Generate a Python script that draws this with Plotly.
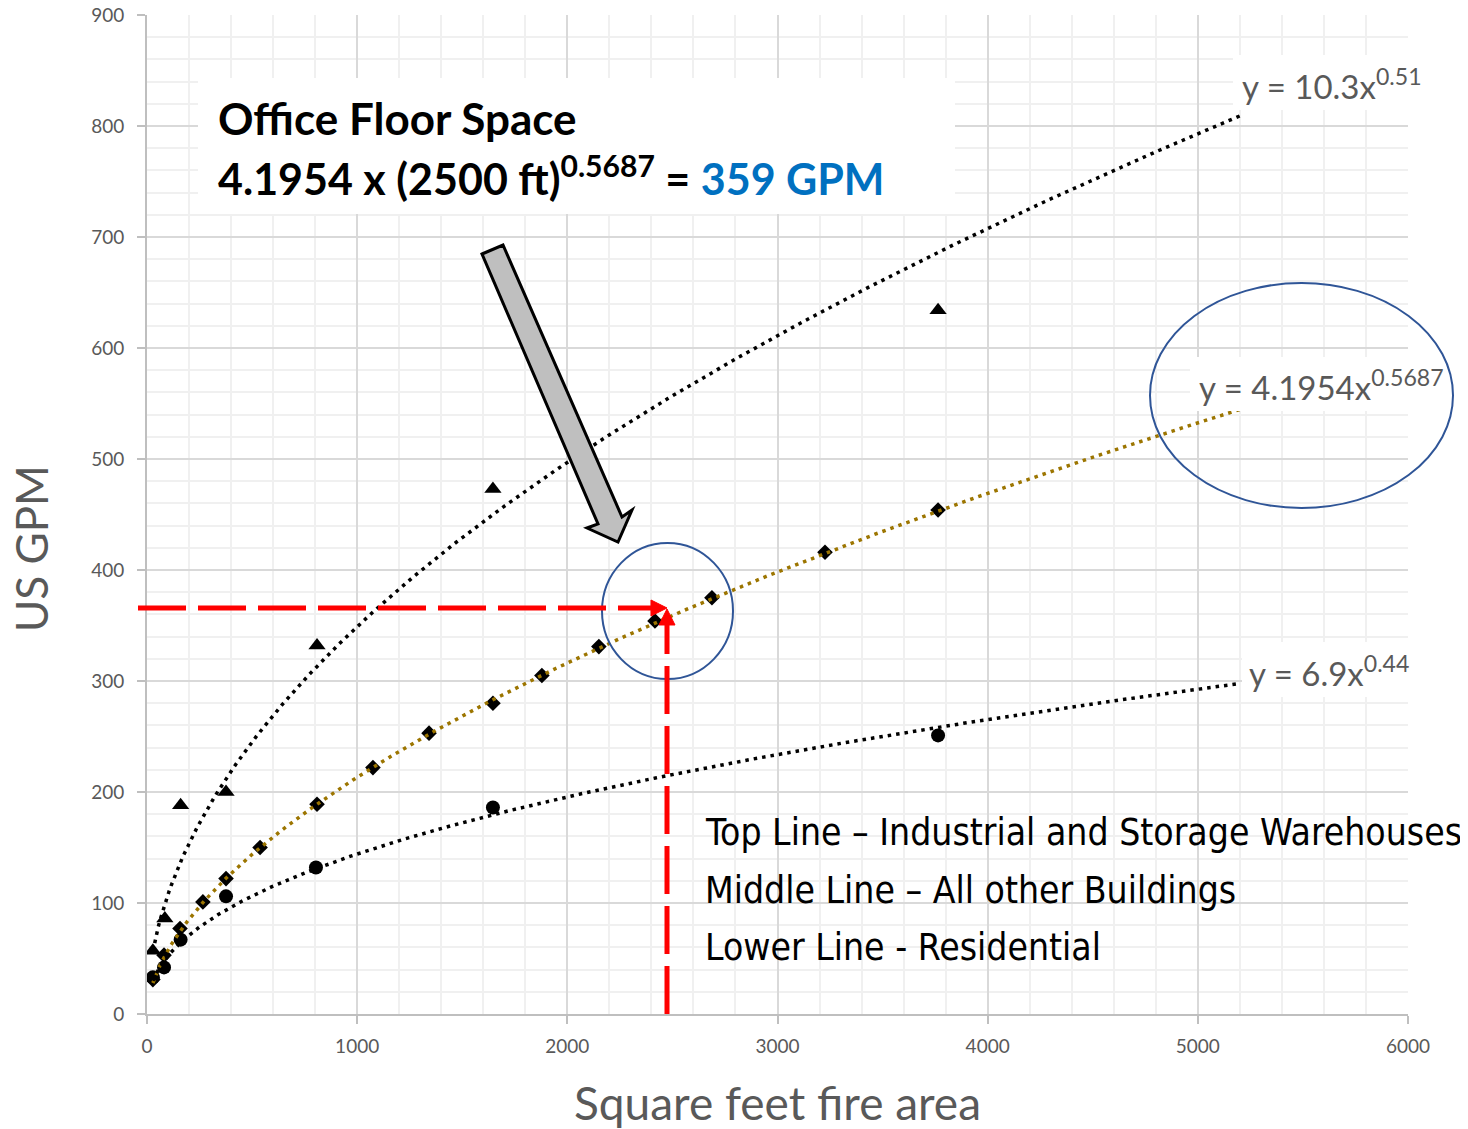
import numpy as np
import plotly.graph_objects as go

# ---- data ----
x_ind = [28, 85, 160, 376, 809, 1646, 3764]
y_ind = [57, 86, 188, 200, 332, 473, 634]

x_res = [28, 81, 160, 376, 804, 1646, 3764]
y_res = [33, 42, 67, 106, 132, 186, 251]

x_oth = [28, 81, 157, 266, 376, 538, 809, 1075, 1342, 1646, 1879, 2150, 2417, 2688, 3226, 3764]
y_oth = [31, 53, 77, 101, 122, 150, 189, 222, 253, 280, 305, 331, 354, 375, 416, 454]

# power trendlines as labelled on the chart: y = a * x^b
trend_names = ["Industrial", "All other", "Residential"]
trend_coef = [10.3, 4.1954, 6.9]
trend_exp = [0.51, 0.5687, 0.44]
trend_start = 28
trend_end = 5200

x_ticks = [0, 1000, 2000, 3000, 4000, 5000, 6000]
y_ticks = [0, 100, 200, 300, 400, 500, 600, 700, 800, 900]

# ---- figure geometry helpers (screen pixel -> paper) ----
W, H = 1468, 1129
OFF = 8  # page body offset
L, R, T, B = 147, 1408, 15, 1014


def px(xp):
    return (xp - L) / (R - L)


def py(yp):
    return (B - yp) / (B - T)


GREY = "#595959"
fig = go.Figure()

fig.add_trace(go.Scatter(x=x_ind, y=y_ind, mode="markers", name="Industrial",
                         marker=dict(symbol="triangle-up", size=15, color="black")))
fig.add_trace(go.Scatter(x=x_res, y=y_res, mode="markers", name="Residential",
                         marker=dict(symbol="circle", size=14, color="black")))
fig.add_trace(go.Scatter(x=x_oth, y=y_oth, mode="markers", name="All other",
                         marker=dict(symbol="diamond", size=12, color="black")))

trend_colors = ["black", "#9C7500", "black"]
xs = np.linspace(trend_start, trend_end, 600)
for name, a, b, c in zip(trend_names, trend_coef, trend_exp, trend_colors):
    fig.add_trace(go.Scatter(x=xs, y=a * xs ** b, mode="lines", name=name + " trend",
                             line=dict(color=c, width=3.5, dash="3.5px,5px"),
                             hoverinfo="skip"))

shapes = []
# white label boxes
for (x0, y0, x1, y1) in [(198, 78, 955, 214), (1233, 55, 1424, 110),
                         (1190, 357, 1420, 411), (1242, 642, 1412, 697)]:
    shapes.append(dict(type="rect", xref="paper", yref="paper",
                       x0=px(x0), x1=px(x1), y0=py(y1), y1=py(y0),
                       fillcolor="white", line=dict(width=0), layer="above"))

# blue ellipses
for (cx, cy, rx, ry) in [(667.5, 611, 65.5, 68), (1301.5, 395.5, 151.5, 112.5)]:
    shapes.append(dict(type="circle", xref="paper", yref="paper",
                       x0=px(cx - rx), x1=px(cx + rx), y0=py(cy + ry), y1=py(cy - ry),
                       line=dict(color="#2F5597", width=2), layer="above"))

# red dashed guides
RED = "#FF0000"
shapes.append(dict(type="line", xref="paper", yref="paper",
                   x0=px(138), x1=px(652), y0=py(608), y1=py(608),
                   line=dict(color=RED, width=5, dash="48px,12px"), layer="above"))
shapes.append(dict(type="line", xref="paper", yref="paper",
                   x0=px(667), x1=px(667), y0=py(1014), y1=py(624),
                   line=dict(color=RED, width=5, dash="48px,12px"), layer="above"))


def poly(pts):
    return "M " + " L ".join(f"{px(a):.5f},{py(b):.5f}" for a, b in pts) + " Z"


shapes.append(dict(type="path", xref="paper", yref="paper",
                   path=poly([(651, 600), (667, 608), (651, 616)]),
                   fillcolor=RED, line=dict(color=RED, width=1), layer="above"))
shapes.append(dict(type="path", xref="paper", yref="paper",
                   path=poly([(659, 625), (667, 609), (675, 625)]),
                   fillcolor=RED, line=dict(color=RED, width=1), layer="above"))

# grey block arrow
shapes.append(dict(type="path", xref="paper", yref="paper",
                   path=poly([(482, 254), (503, 245), (622, 517), (632, 510),
                              (618, 542), (587, 528), (598, 524)]),
                   fillcolor="#BFBFBF", line=dict(color="black", width=3), layer="above"))

ann = []
ann.append(dict(xref="paper", yref="paper", x=px(216), y=py(118), xanchor="left", yanchor="middle",
                text="<b>Office Floor Space</b>", showarrow=False,
                font=dict(family="Lato", size=44, color="black")))
ann.append(dict(xref="paper", yref="paper", x=px(216), y=py(175), xanchor="left", yanchor="middle",
                text="<b>4.1954 x (2500 ft)<sup>0.5687</sup> = <span style='color:#0070C0'>359 GPM</span></b>",
                showarrow=False, font=dict(family="Lato", size=43, color="black")))

for (x0, yc, txt) in [(1240, 84, "y = 10.3x<sup>0.51</sup>"),
                      (1197, 385, "y = 4.1954x<sup>0.5687</sup>"),
                      (1247, 671, "y = 6.9x<sup>0.44</sup>")]:
    ann.append(dict(xref="paper", yref="paper", x=px(x0), y=py(yc), xanchor="left", yanchor="middle",
                    text=txt, showarrow=False, font=dict(family="Lato", size=33, color=GREY)))

for (yc, txt) in [(832, "Top Line – Industrial and Storage Warehouses"),
                  (890, "Middle Line – All other Buildings"),
                  (947, "Lower Line - Residential")]:
    ann.append(dict(xref="paper", yref="paper", x=px(703), y=py(yc), xanchor="left", yanchor="middle",
                    text=txt, showarrow=False,
                    font=dict(family="DejaVu Sans Condensed, Liberation Sans Narrow, Roboto", size=37,
                              color="black")))

# axis titles
ann.append(dict(xref="paper", yref="paper", x=px(777), y=py(1102), xanchor="center", yanchor="middle",
                text="Square feet fire area", showarrow=False,
                font=dict(family="Lato", size=46, color=GREY)))
ann.append(dict(xref="paper", yref="paper", x=px(31), y=py(548), xanchor="center", yanchor="middle",
                text="US GPM", textangle=-90, showarrow=False,
                font=dict(family="Lato", size=44, color=GREY)))

fig.update_layout(
    width=W, height=H,
    margin=dict(l=L - OFF, r=W - R + OFF, t=T - OFF, b=H - B + OFF, autoexpand=False),
    paper_bgcolor="white", plot_bgcolor="white",
    showlegend=False,
    shapes=shapes, annotations=ann,
    font=dict(family="Lato", color=GREY),
)
fig.update_xaxes(range=[0, 6000], tickvals=x_ticks, ticktext=[str(v) for v in x_ticks],
                 automargin=False, ticklabeloverflow="allow",
                 showgrid=True, gridcolor="#D9D9D9", gridwidth=2,
                 minor=dict(dtick=200, showgrid=True, gridcolor="#F0F0F0", gridwidth=2),
                 showline=True, linecolor="#BFBFBF", linewidth=2,
                 ticks="outside", ticklen=8, tickcolor="#BFBFBF", tickwidth=2,
                 ticklabelstandoff=6,
                 tickfont=dict(family="Lato", size=19, color=GREY), zeroline=False)
fig.update_yaxes(range=[0, 900], tickvals=y_ticks, ticktext=[str(v) for v in y_ticks],
                 automargin=False, ticklabeloverflow="allow",
                 showgrid=True, gridcolor="#D9D9D9", gridwidth=2,
                 minor=dict(dtick=20, showgrid=True, gridcolor="#F0F0F0", gridwidth=2),
                 showline=True, linecolor="#BFBFBF", linewidth=2,
                 ticks="outside", ticklen=8, tickcolor="#BFBFBF", tickwidth=2,
                 ticklabelstandoff=9,
                 tickfont=dict(family="Lato", size=19, color=GREY), zeroline=False)

fig.write_html("out.html")
